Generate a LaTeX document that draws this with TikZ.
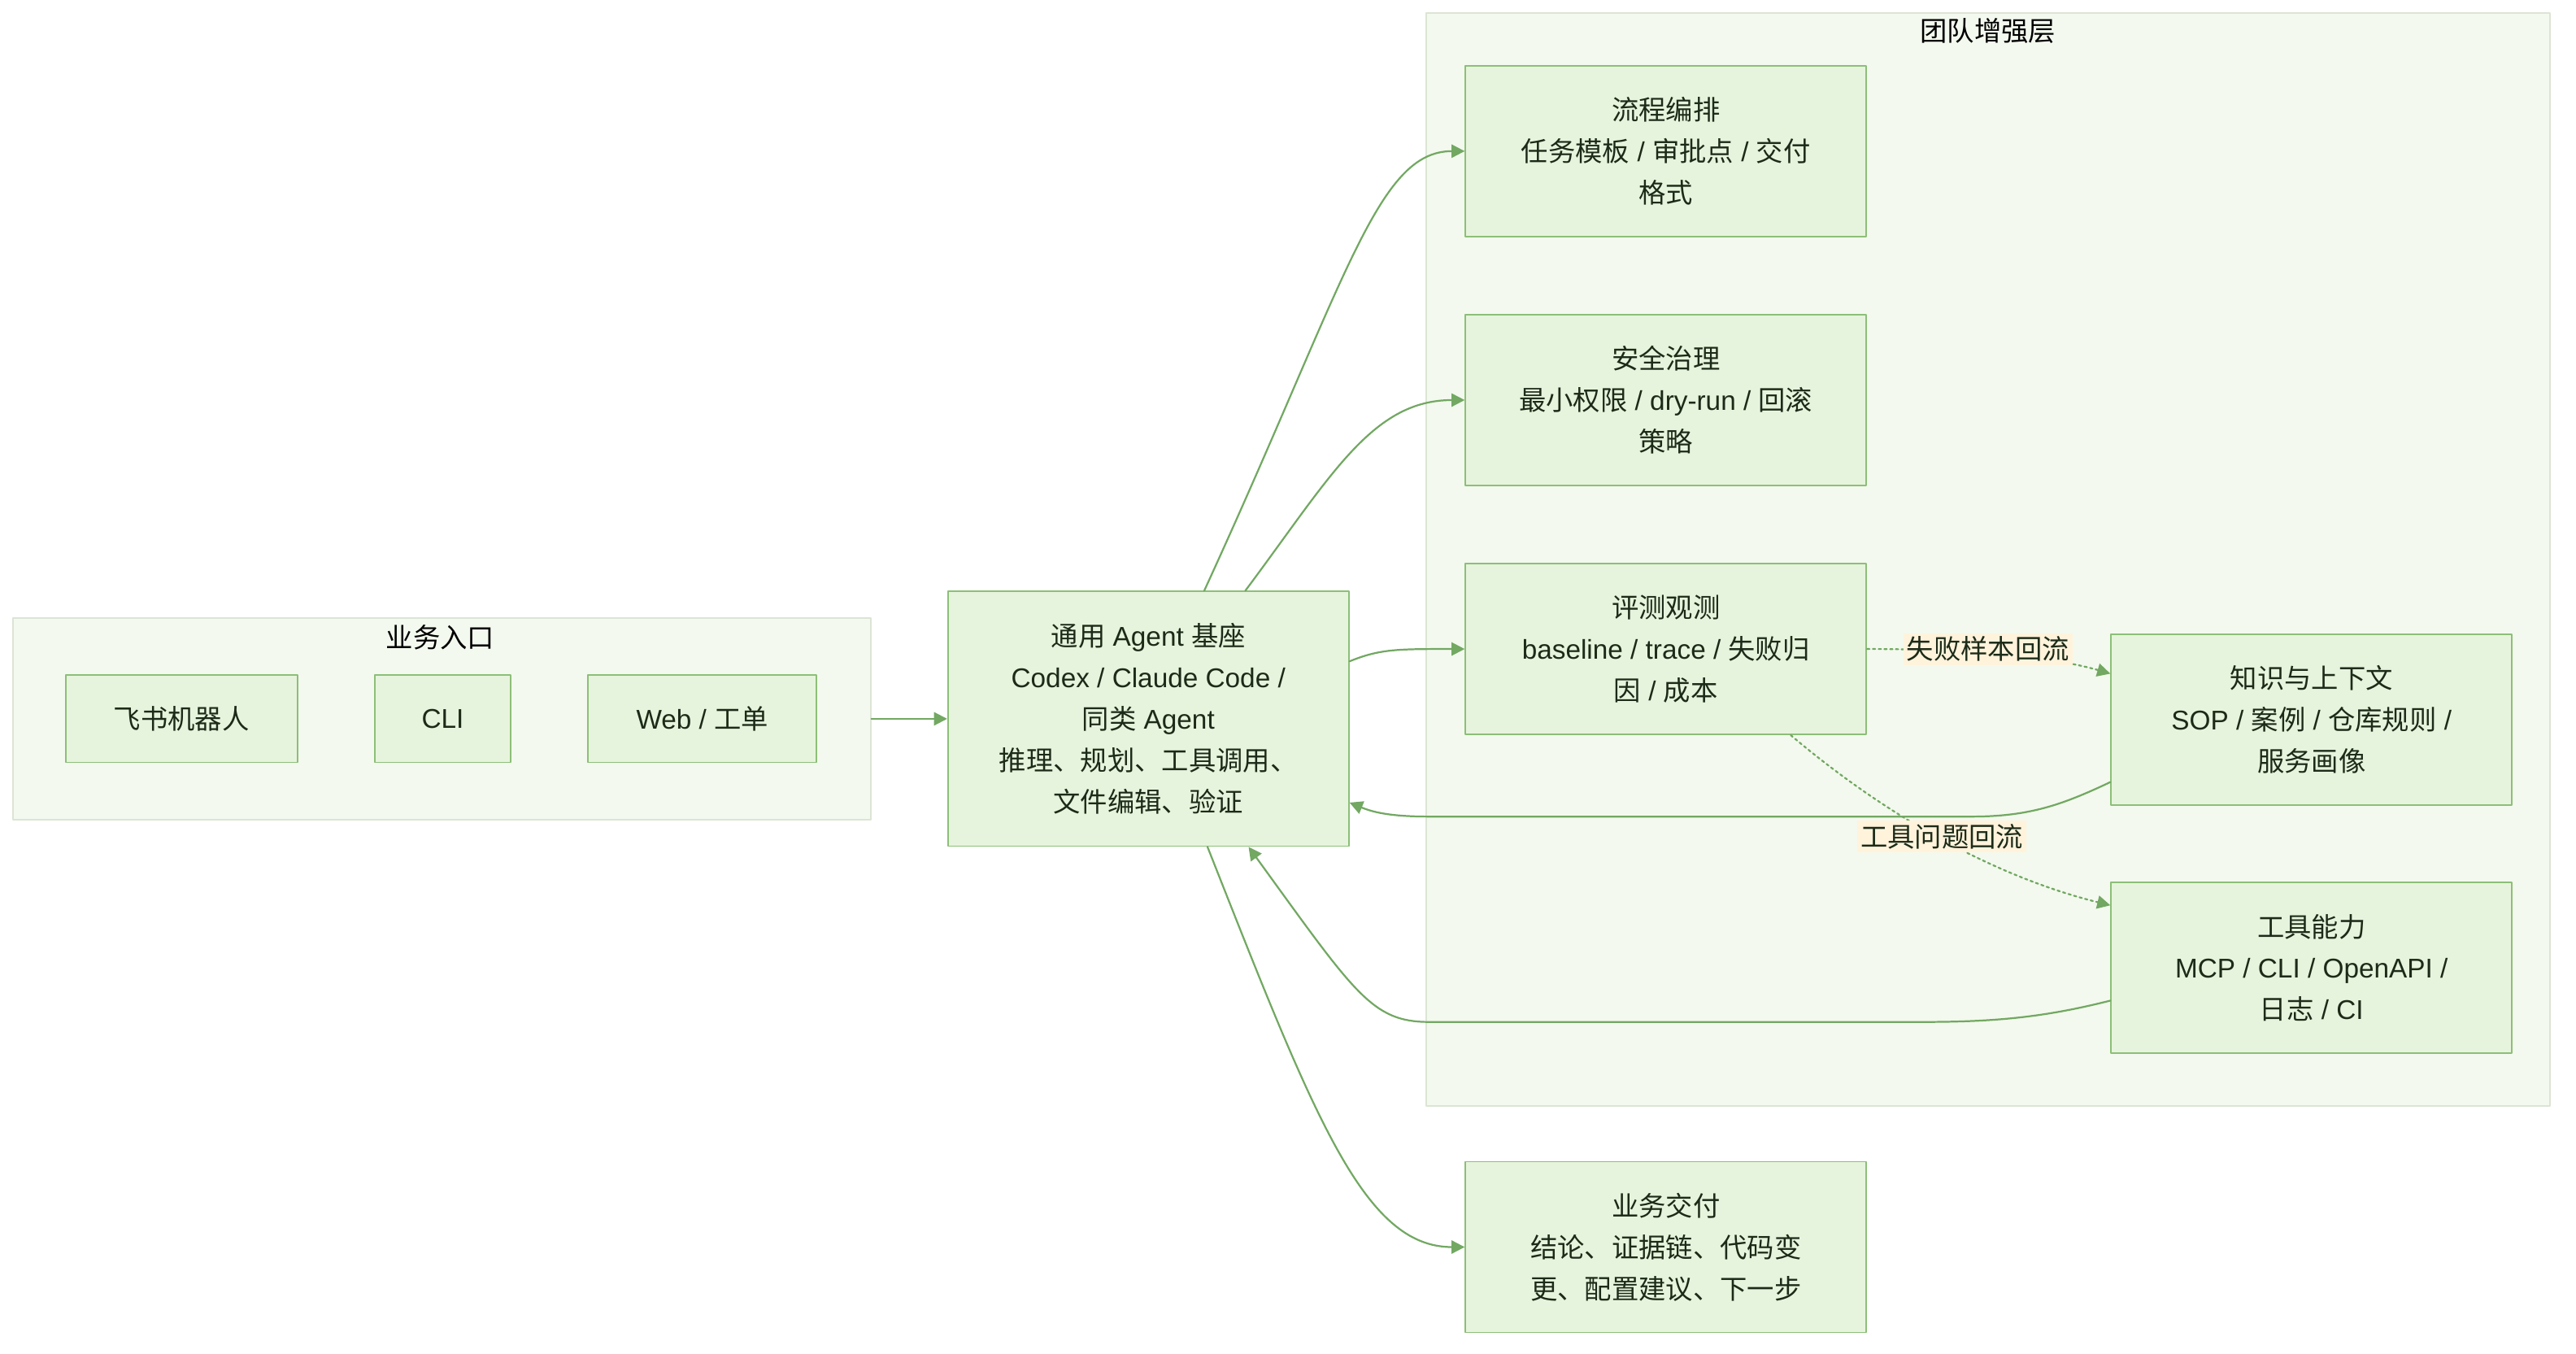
\documentclass[tikz,border=0pt]{standalone}
\usepackage{fontspec}
\setmainfont{Liberation Sans}
\newfontfamily\zh{Noto Sans CJK SC}
\usetikzlibrary{arrows.meta}
\definecolor{nodefill}{HTML}{E7F4DD}
\definecolor{nodeline}{HTML}{8CBF78}
\definecolor{grpfill}{HTML}{F3F9EE}
\definecolor{grpline}{HTML}{DCE5D5}
\definecolor{edgecol}{HTML}{72A862}
\definecolor{tagfill}{HTML}{FFF3DC}
\definecolor{txt}{HTML}{1C2B18}
\tikzset{
  box/.style={draw=nodeline, fill=nodefill, line width=0.9pt, text=txt, align=center, inner sep=0pt, font=\fontsize{16.5}{25.2}\selectfont},
  grp/.style={draw=grpline, fill=grpfill, line width=0.9pt, inner sep=0pt},
  ttl/.style={text=black, inner sep=0pt, font=\fontsize{16.5}{20}\selectfont},
  flow/.style={draw=edgecol, line width=1.1pt, -{Triangle[length=8pt,width=8pt]}},
  feedback/.style={flow, dash pattern=on 1.5pt off 2pt},
  tag/.style={fill=tagfill, text=txt, inner sep=2pt, font=\fontsize{16.5}{20}\selectfont}
}
\begin{document}
\begin{tikzpicture}[x=1pt, y=-1pt, line join=round, line cap=round]
\useasboundingbox (0,0) rectangle (1568,823.6);
% groups
\node[grp, minimum width=522pt, minimum height=123pt] (entry) at (269,437.5) {};
\node[ttl] at (268,388) {\zh 业务入口};
\node[grp, minimum width=684pt, minimum height=665pt] (team) at (1210,340.5) {};
\node[ttl] at (1210,19) {\zh 团队增强层};
% entry points
\node[box, minimum width=141pt, minimum height=53pt] (bot) at (110.5,437.5) {\zh 飞书机器人};
\node[box, minimum width=83pt, minimum height=53pt] (cli) at (269.5,437.5) {CLI};
\node[box, minimum width=139pt, minimum height=53pt] (web) at (427.5,437.5) {Web / {\zh 工单}};
% core
\node[box, minimum width=244pt, minimum height=155pt] (agent) at (699,437.5)
  {{\zh 通用} Agent {\zh 基座}\\Codex / Claude Code /\\{\zh 同类} Agent\\{\zh 推理、规划、工具调用、}\\{\zh 文件编辑、验证}};
% team layer
\node[box, minimum width=244pt, minimum height=104pt] (orch) at (1014,92)
  {{\zh 流程编排}\\{\zh 任务模板} / {\zh 审批点} / {\zh 交付}\\{\zh 格式}};
\node[box, minimum width=244pt, minimum height=104pt] (safe) at (1014,243.5)
  {{\zh 安全治理}\\{\zh 最小权限} / dry-run / {\zh 回滚}\\{\zh 策略}};
\node[box, minimum width=244pt, minimum height=104pt] (eval) at (1014,395)
  {{\zh 评测观测}\\baseline / trace / {\zh 失败归}\\{\zh 因} / {\zh 成本}};
\node[box, minimum width=244pt, minimum height=104pt] (know) at (1407,438)
  {{\zh 知识与上下文}\\SOP / {\zh 案例} / {\zh 仓库规则} /\\{\zh 服务画像}};
\node[box, minimum width=244pt, minimum height=104pt] (tool) at (1407,589)
  {{\zh 工具能力}\\MCP / CLI / OpenAPI /\\{\zh 日志} / CI};
\node[box, minimum width=244pt, minimum height=104pt] (deliv) at (1014,759)
  {{\zh 业务交付}\\{\zh 结论、证据链、代码变}\\{\zh 更、配置建议、下一步}};
% connectors
\draw[flow] (entry.east) -- (agent.west);
\draw[flow] ([xshift=34pt]agent.north) .. controls (820,170) and (838,92) .. (orch.west);
\draw[flow] ([xshift=59pt]agent.north) .. controls (810,290) and (835,243.5) .. (safe.west);
\draw[flow] ([yshift=35pt]agent.east) .. controls (840,395) and (850,395) .. (eval.west);
\draw[flow] ([xshift=36pt]agent.south) .. controls (800,680) and (830,759) .. (deliv.west);
\draw[flow] ([yshift=-38pt]know.west) .. controls (1255,490) and (1235,497) .. (1200,497)
  -- (870,497) .. controls (845,497) and (835,494) .. ([yshift=-51pt]agent.east);
\draw[flow] ([yshift=-20pt]tool.west) .. controls (1245,619) and (1215,622) .. (1170,622)
  -- (870,622) .. controls (835,622) and (825,605) .. ([xshift=61pt]agent.south);
\draw[feedback] (eval.east) .. controls (1200,395) and (1250,400) .. ([yshift=28pt]know.west);
\draw[feedback] ([xshift=76pt]eval.south) .. controls (1170,515) and (1240,540) .. ([yshift=38pt]tool.west);
\node[tag] at (1210,395) {\zh 失败样本回流};
\node[tag] at (1182,509) {\zh 工具问题回流};
\end{tikzpicture}
\end{document}
